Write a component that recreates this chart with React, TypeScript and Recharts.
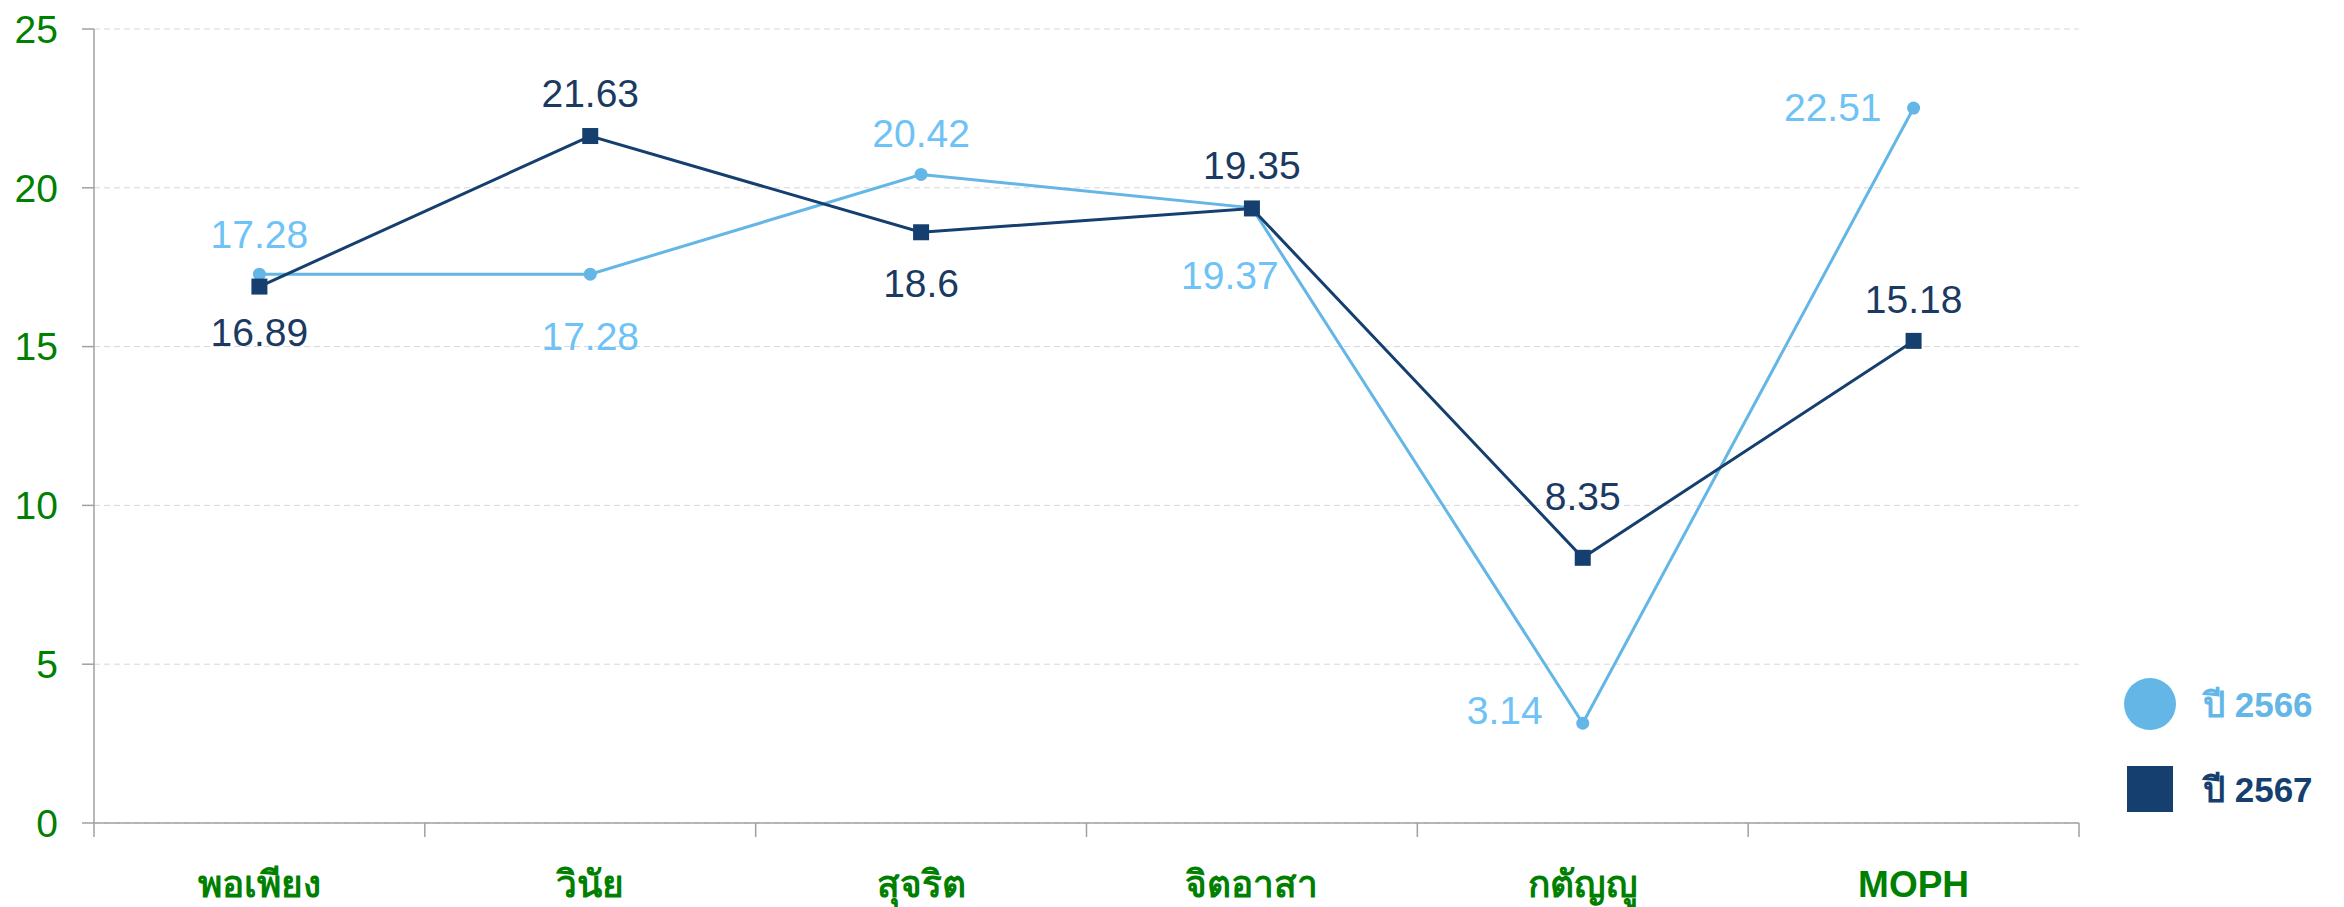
import React from 'react';
import { LineChart, Line, XAxis, YAxis, CartesianGrid, LabelList } from 'recharts';

const categories = ['พอเพียง', 'วินัย', 'สุจริต', 'จิตอาสา', 'กตัญญู', 'MOPH'];
const values2566 = [17.28, 17.28, 20.42, 19.37, 3.14, 22.51];
const values2567 = [16.89, 21.63, 18.6, 19.35, 8.35, 15.18];
const yTicks = [0, 5, 10, 15, 20, 25];
const seriesNames = ['ปี 2566', 'ปี 2567'];

// label placement relative to each point: [dx, dy, anchor]
const place2566: [number, number, string][] = [
  [0, -40, 'middle'], [0, 62, 'middle'], [0, -41, 'middle'],
  [-22, 68, 'middle'], [-40, -13, 'end'], [-32, -1, 'end'],
];
const place2567: [number, number, string][] = [
  [0, 46, 'middle'], [0, -43, 'middle'], [0, 51, 'middle'],
  [0, -43, 'middle'], [0, -61, 'middle'], [0, -41, 'middle'],
];

const LIGHT = '#63b6e6';
const LIGHT_TEXT = '#6ec2f6';
const DARK = '#153f6e';
const DARK_TEXT = '#1b3a62';
const GREEN = '#008000';
const AXIS = '#a0a0a0';
const FONT = '"Liberation Sans", Arial, Helvetica, sans-serif';

const data = categories.map((name, i) => ({
  pos: i + 0.5,
  name,
  a: values2566[i],
  b: values2567[i],
}));

const xTicks: number[] = [];
for (let i = 0; i <= categories.length * 2; i++) xTicks.push(i / 2);

const XTick = (props: any) => {
  const { x, y, payload } = props;
  const v = payload.value;
  if (Number.isInteger(v)) {
    return <line x1={x} x2={x} y1={y - 14} y2={y} stroke={AXIS} strokeWidth={1.5} />;
  }
  const idx = Math.floor(v);
  return (
    <text x={x} y={y + 60} textAnchor="middle" fill={GREEN} fontWeight="bold" fontSize={37} fontFamily={FONT}>
      {categories[idx]}
    </text>
  );
};

const makeLabel = (place: [number, number, string][], color: string) => (props: any) => {
  const x = props.x ?? props.viewBox?.x;
  const y = props.y ?? props.viewBox?.y;
  const idx = props.index;
  const p = place[idx] || [0, -40, 'middle'];
  return (
    <text
      x={x + p[0]}
      y={y + p[1]}
      textAnchor={p[2] as any}
      dominantBaseline="central"
      fill={color}
      fontSize={39}
      fontFamily={FONT}
    >
      {props.value}
    </text>
  );
};

const SquareDot = (props: any) => {
  const { cx, cy, index } = props;
  return <rect key={'sq' + index} x={cx - 8} y={cy - 8} width={16} height={16} fill={DARK} />;
};

export default function App() {
  return (
    <div style={{ position: 'relative', width: 2336, height: 899 }}>
      <LineChart
        width={2336}
        height={899}
        data={data}
        margin={{ top: 21, right: 265, bottom: 4, left: 0 }}
      >
        <CartesianGrid horizontal vertical={false} stroke="#d8d8d8" strokeDasharray="6 4" />
        <XAxis
          dataKey="pos"
          type="number"
          domain={[0, categories.length]}
          ticks={xTicks}
          interval={0}
          tickLine={false}
          tickSize={14}
          tickMargin={0}
          height={80}
          stroke={AXIS}
          strokeWidth={1.5}
          tick={<XTick />}
        />
        <YAxis
          domain={[0, 25]}
          ticks={yTicks}
          interval={0}
          width={86}
          tickSize={12}
          tickMargin={24}
          stroke={AXIS}
          strokeWidth={1.5}
          tick={{ fill: GREEN, fontSize: 39, fontFamily: FONT }}
        />
        <Line
          dataKey="a"
          name={seriesNames[0]}
          stroke={LIGHT}
          strokeWidth={3}
          dot={{ r: 6.5, fill: LIGHT, stroke: 'none' }}
          activeDot={false}
          isAnimationActive={false}
        >
          <LabelList dataKey="a" content={makeLabel(place2566, LIGHT_TEXT)} />
        </Line>
        <Line
          dataKey="b"
          name={seriesNames[1]}
          stroke={DARK}
          strokeWidth={3}
          dot={<SquareDot />}
          activeDot={false}
          isAnimationActive={false}
        >
          <LabelList dataKey="b" content={makeLabel(place2567, DARK_TEXT)} />
        </Line>
      </LineChart>
      <div style={{ position: 'absolute', left: 2116, top: 666, width: 220 }}>
        <div style={{ display: 'flex', alignItems: 'center', height: 60 }}>
          <div style={{ width: 52, height: 52, borderRadius: '50%', background: LIGHT, marginLeft: 0 }} />
          <span style={{ marginLeft: 27, color: LIGHT, fontSize: 35, fontWeight: 'bold', fontFamily: FONT, whiteSpace: 'nowrap' }}>{seriesNames[0]}</span>
        </div>
        <div style={{ display: 'flex', alignItems: 'center', height: 60, marginTop: 25 }}>
          <div style={{ width: 46, height: 46, background: DARK, marginLeft: 3 }} />
          <span style={{ marginLeft: 30, color: DARK, fontSize: 35, fontWeight: 'bold', fontFamily: FONT, whiteSpace: 'nowrap' }}>{seriesNames[1]}</span>
        </div>
      </div>
    </div>
  );
}
